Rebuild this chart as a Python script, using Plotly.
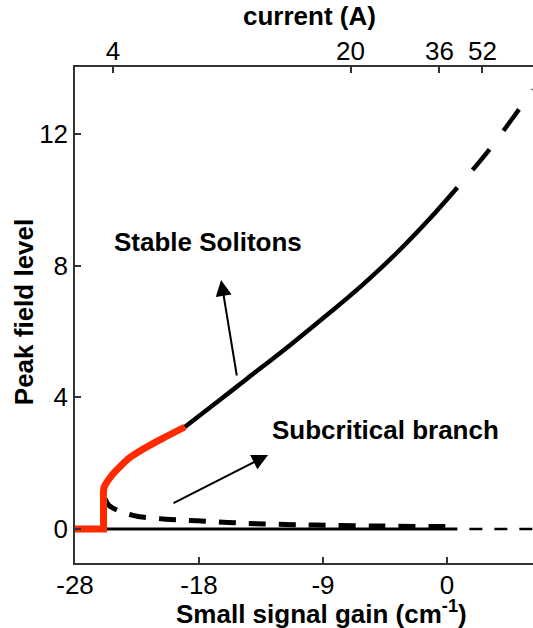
import plotly.graph_objects as go

# Red lower branch: zero state up to the jump, then the rising part
red_step_gain = [-27.0, -24.93, -24.93]
red_step_peak = [0.0, 0.0, 0.97]
red_rise_gain = [-24.93, -24.88, -24.31, -23.59, -23.15, -21.92, -20.70, -19.03]
red_rise_peak = [0.97, 1.27, 1.64, 1.95, 2.13, 2.46, 2.74, 3.10]

# Stable soliton branch (solid part, then dashed continuation)
stable_gain = [-19.03, -16.5, -14.54, -11.42, -8.52, -6.13, -3.67, -1.28, 0.75]
stable_peak = [3.10, 3.92, 4.56, 5.58, 6.57, 7.42, 8.38, 9.42, 10.38]
stable_ext_gain = [0.75, 2.75, 4.93, 6.24]
stable_ext_peak = [10.38, 11.36, 12.58, 13.35]

# Subcritical (unstable) branch
sub_gain = [-24.8, -24.54, -22.87, -20.41, -18.16, -15.91, -13.88, -11.71, -9.61, -4.9, 0.75]
sub_peak = [0.92, 0.72, 0.42, 0.30, 0.25, 0.20, 0.16, 0.14, 0.12, 0.09, 0.07]

# Zero (non-lasing) solution: stable below threshold, unstable above
zero_stable_gain = [-24.93, 0.75]
zero_stable_peak = [0.0, 0.0]
zero_unstable_gain = [0.75, 6.24]
zero_unstable_peak = [0.0, 0.0]

# Bottom axis ticks
gain_tickvals = [-27, -18, -9, 0]
gain_ticktext = ["-28", "-18", "-9", "0"]
# Top axis: pump current marks, placed at the corresponding gain values
current_tick_gain = [-24.25, -7.0, -0.55, 2.57]
current_ticktext = ["4", "20", "36", "52"]
# Left axis ticks
peak_tickvals = [0, 4, 8, 12]

X_RANGE = [-27, 6.24]
Y_RANGE = [-1.033, 14.04]

FONT = "Liberation Sans, Arial, sans-serif"
AXIS_COLOR = "#333333"
RED = "#ff2a00"

fig = go.Figure()

fig.add_trace(go.Scatter(x=zero_stable_gain, y=zero_stable_peak, mode="lines",
                         line=dict(color="black", width=3)))
fig.add_trace(go.Scatter(x=zero_unstable_gain, y=zero_unstable_peak, mode="lines",
                         line=dict(color="black", width=2.7, dash="0px,12px,13px,0px")))
fig.add_trace(go.Scatter(x=sub_gain, y=sub_peak, mode="lines",
                         line=dict(color="black", width=5, dash="17px,13px", shape="spline")))
fig.add_trace(go.Scatter(x=stable_gain, y=stable_peak, mode="lines",
                         line=dict(color="black", width=4.5, shape="spline")))
fig.add_trace(go.Scatter(x=stable_ext_gain, y=stable_ext_peak, mode="lines",
                         line=dict(color="black", width=4.5, dash="0px,23px,27px,0px",
                                   shape="spline")))
fig.add_trace(go.Scatter(x=red_step_gain, y=red_step_peak, mode="lines",
                         line=dict(color=RED, width=7)))
fig.add_trace(go.Scatter(x=red_rise_gain, y=red_rise_peak, mode="lines",
                         line=dict(color=RED, width=7, shape="spline")))
# empty trace so the top (current) axis is instantiated
fig.add_trace(go.Scatter(x=[], y=[], xaxis="x2", mode="lines"))

annotations = [
    dict(x=-16.40, y=7.57, ax=-15.24, ay=4.62, xref="x", yref="y", axref="x", ayref="y",
         text="", showarrow=True, arrowhead=2, arrowsize=1.6, arrowwidth=2, arrowcolor="black"),
    dict(x=-12.99, y=2.25, ax=-19.96, ay=0.76, xref="x", yref="y", axref="x", ayref="y",
         text="", showarrow=True, arrowhead=2, arrowsize=1.6, arrowwidth=2, arrowcolor="black"),
    dict(x=-17.35, y=8.72, xref="x", yref="y", text="<b>Stable Solitons</b>", showarrow=False,
         font=dict(family=FONT, size=26, color="black")),
    dict(x=-4.50, y=3.01, xref="x", yref="y", text="<b>Subcritical branch</b>", showarrow=False,
         font=dict(family=FONT, size=26, color="black")),
    dict(x=-0.111, y=0.506, xref="paper", yref="paper", text="<b>Peak field level</b>",
         textangle=-90, showarrow=False, xanchor="center", yanchor="middle",
         font=dict(family=FONT, size=26, color="black")),
    dict(x=0.539, y=-0.099, xref="paper", yref="paper",
         text="<b>Small signal gain (cm<sup>-1</sup>)</b>", showarrow=False,
         xanchor="center", yanchor="middle", font=dict(family=FONT, size=26, color="black")),
    dict(x=0.513, y=1.103, xref="paper", yref="paper", text="<b>current (A)</b>",
         showarrow=False, xanchor="center", yanchor="middle",
         font=dict(family=FONT, size=26, color="black")),
]

axis_common = dict(showgrid=False, zeroline=False, showline=True, linecolor=AXIS_COLOR,
                   linewidth=1.5, ticks="inside", ticklen=6, tickwidth=1.5, tickcolor=AXIS_COLOR,
                   tickfont=dict(family=FONT, size=26, color="black"))

fig.update_layout(
    width=533, height=628,
    margin=dict(l=75, r=0, t=67, b=65),
    paper_bgcolor="white", plot_bgcolor="white",
    showlegend=False,
    xaxis=dict(range=X_RANGE, tickmode="array", tickvals=gain_tickvals, ticktext=gain_ticktext,
               ticklabelstandoff=-2, **axis_common),
    xaxis2=dict(range=X_RANGE, overlaying="x", side="top", tickmode="array",
                tickvals=current_tick_gain, ticktext=current_ticktext,
                ticklabelstandoff=-5, **axis_common),
    yaxis=dict(range=Y_RANGE, tickmode="array", tickvals=peak_tickvals, **axis_common),
    annotations=annotations,
)

fig.write_html("out.html")
